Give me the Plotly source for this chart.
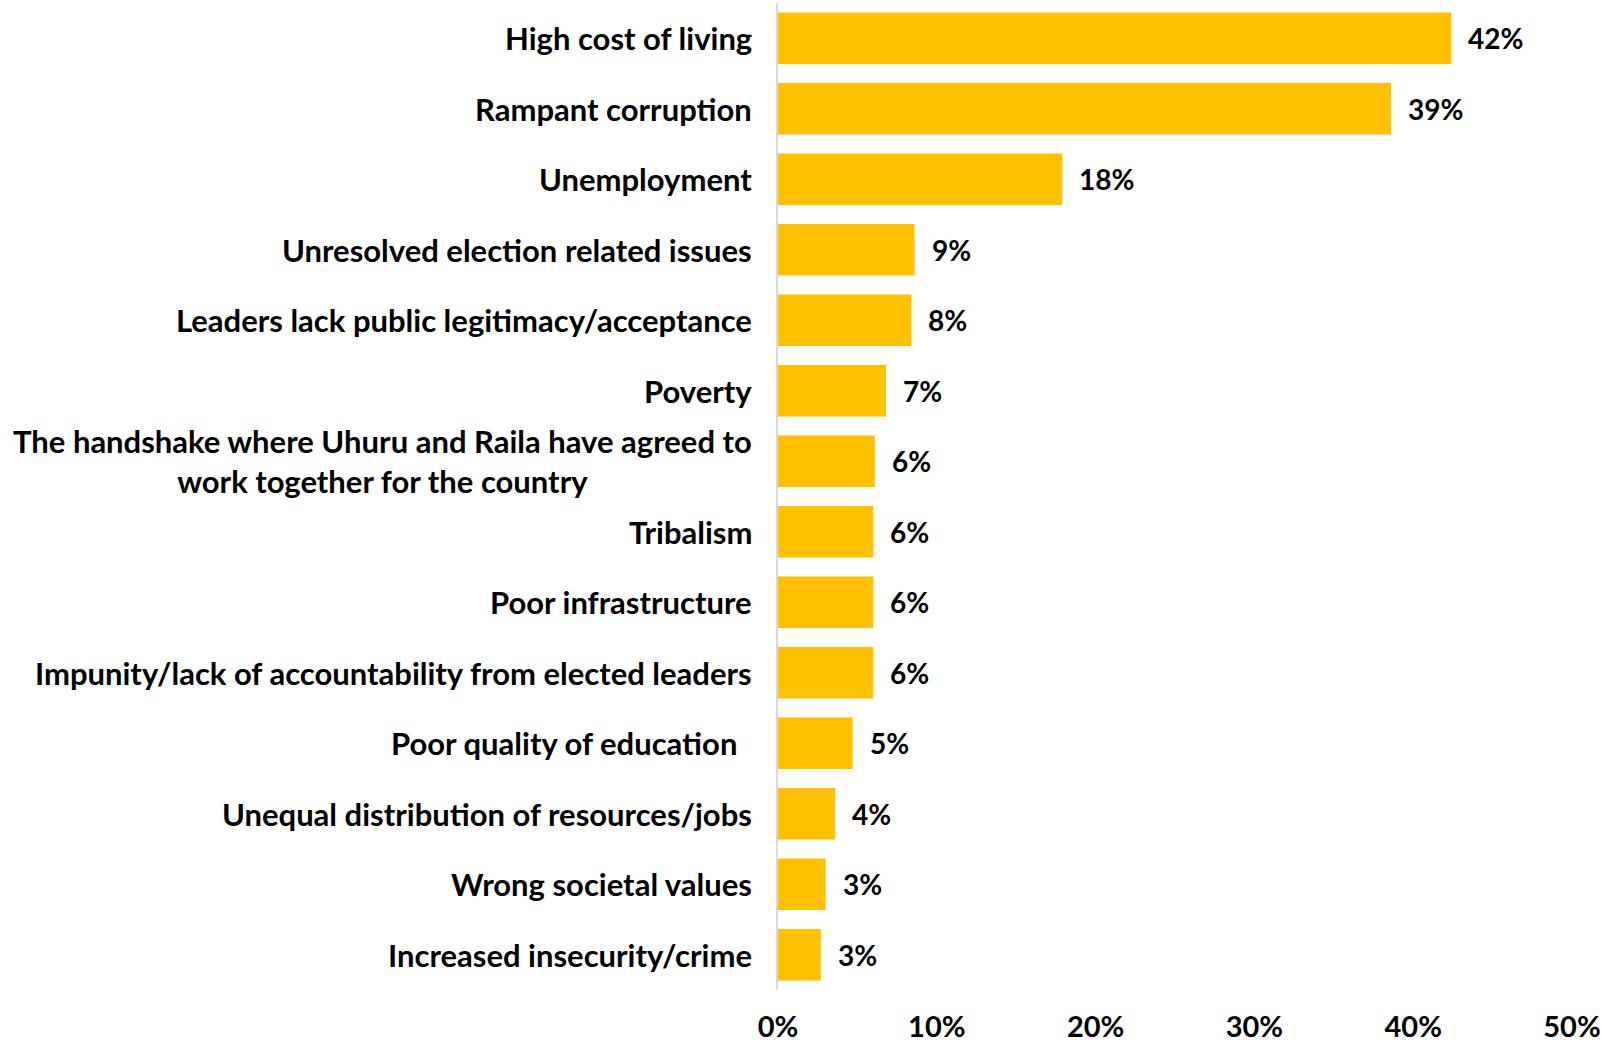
import plotly.graph_objects as go

categories = [
    "High cost of living",
    "Rampant corruption",
    "Unemployment",
    "Unresolved election related issues",
    "Leaders lack public legitimacy/acceptance",
    "Poverty",
    "The handshake where Uhuru and Raila have agreed to<br>work together for the country",
    "Tribalism",
    "Poor infrastructure",
    "Impunity/lack of accountability from elected leaders",
    "Poor quality of education\u00a0\u00a0",
    "Unequal distribution of resources/jobs",
    "Wrong societal values",
    "Increased insecurity/crime",
]
values = [42.4, 38.6, 17.9, 8.6, 8.4, 6.8, 6.1, 6.0, 6.0, 6.0, 4.7, 3.6, 3.0, 2.7]
x_ticks = [0, 10, 20, 30, 40, 50]
x_tick_labels = ["0%", "10%", "20%", "30%", "40%", "50%"]

FONT = "Lato"
BAR_COLOR = "#FFC000"

fig = go.Figure(
    go.Bar(
        x=values,
        y=categories,
        orientation="h",
        marker=dict(color=BAR_COLOR, line=dict(width=0)),
        hoverinfo="skip",
    )
)

annotations = []
for c, v in zip(categories, values):
    annotations.append(dict(
        x=0, xref="paper", y=c, yref="y", text=c, showarrow=False,
        xanchor="right", yanchor="middle", align="center", xshift=-24,
        font=dict(family=FONT, size=31, color="#000000", weight=700),
    ))
    annotations.append(dict(
        x=v, xref="x", y=c, yref="y", text=f"{v:.0f}%", showarrow=False,
        xanchor="left", yanchor="middle", xshift=15,
        font=dict(family=FONT, size=28, color="#000000", weight=700),
    ))

fig.update_layout(
    width=1619, height=1043,
    margin=dict(l=778, r=47, t=3, b=53, pad=0),
    paper_bgcolor="white", plot_bgcolor="white",
    bargap=0.27,
    showlegend=False,
    annotations=annotations,
    xaxis=dict(
        range=[0, 50], tickvals=x_ticks, ticktext=x_tick_labels,
        showgrid=False, zeroline=False, showline=False, ticks="",
        tickfont=dict(family=FONT, size=29, color="#000000", weight=700),
        ticklabelstandoff=17, automargin=False,
    ),
    yaxis=dict(
        categoryorder="array", categoryarray=categories[::-1],
        showticklabels=False, showgrid=False, zeroline=False, automargin=False,
        showline=True, linecolor="#d9d9d9", linewidth=2, ticks="",
    ),
)

fig.write_html(
    "out.html",
    config={"displayModeBar": False},
    post_script="document.body.style.margin='0';document.body.style.overflow='hidden';",
)
